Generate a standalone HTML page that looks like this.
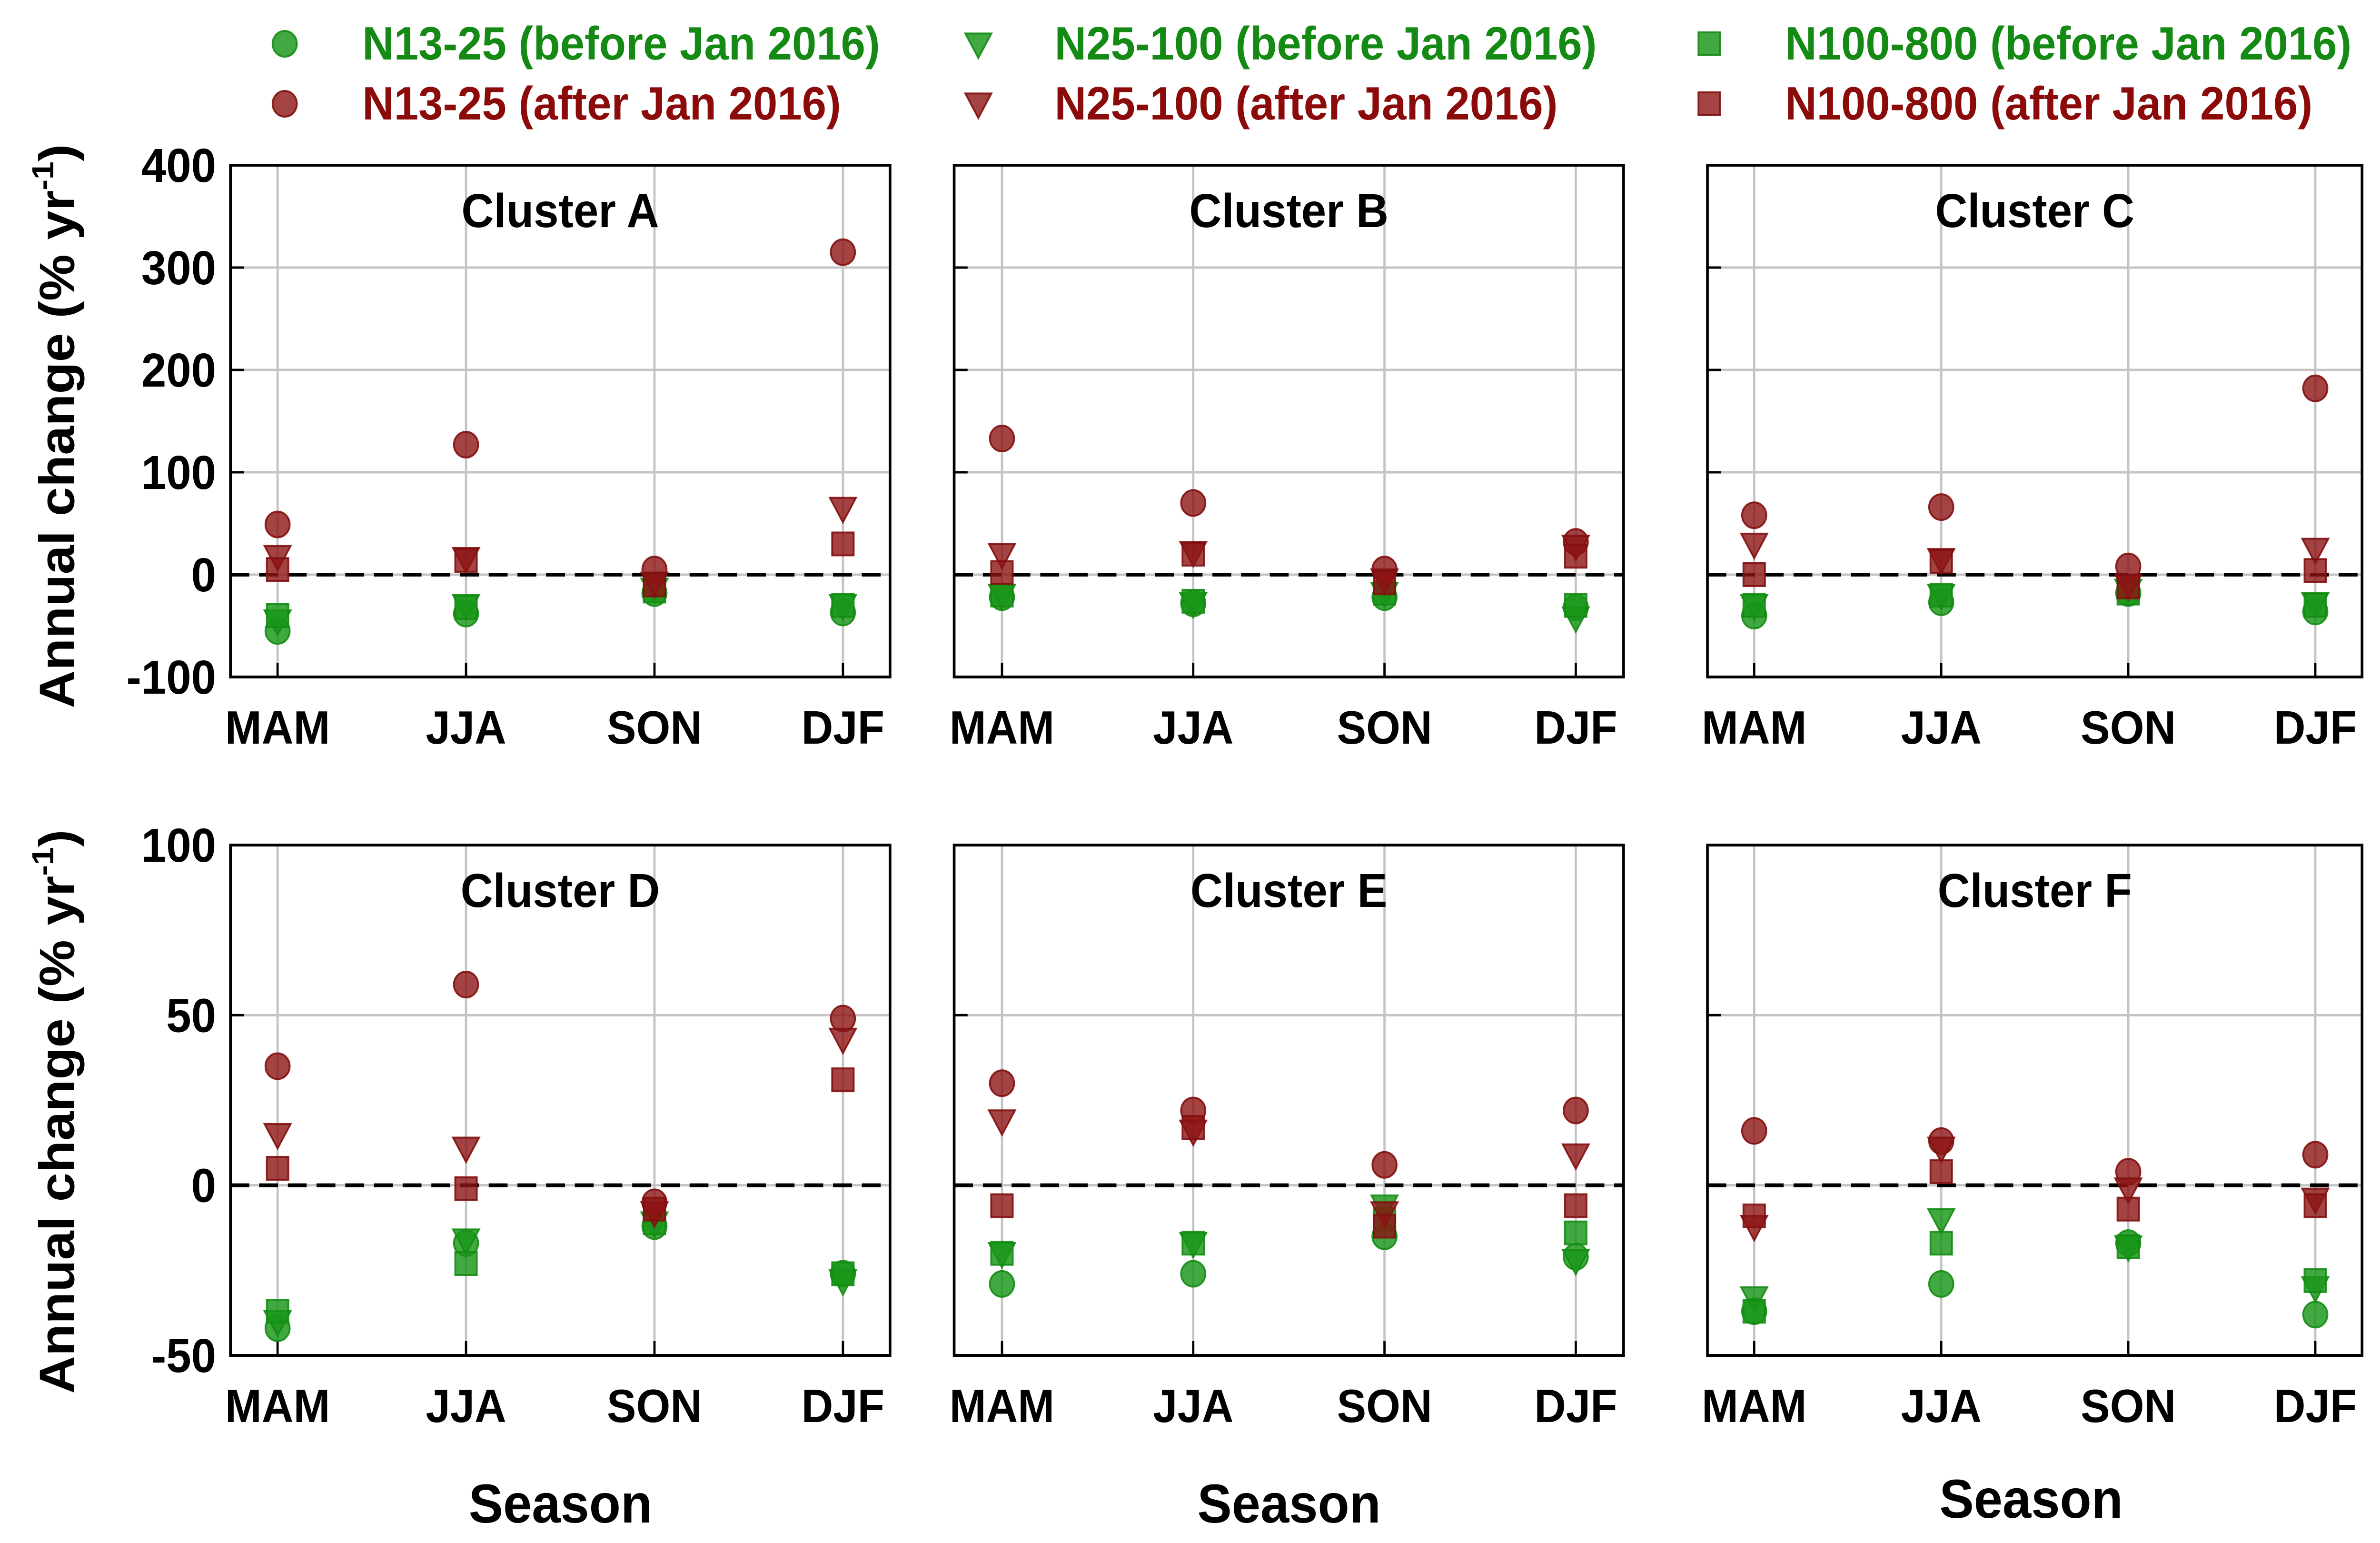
<!DOCTYPE html>
<html><head><meta charset="utf-8"><style>
html,body{margin:0;padding:0;background:#fff;overflow:hidden;}
svg{display:block;width:100vw;height:100vh;font-family:"Liberation Sans",Arial,sans-serif;font-weight:bold;}
</style></head><body>
<svg id="chart" viewBox="0 0 5308 3241" preserveAspectRatio="none" xmlns="http://www.w3.org/2000/svg"></svg>
<script>
const seasons = ["MAM","JJA","SON","DJF"];
const clusters = ["A","B","C","D","E","F"];
const seriesNames = ["gc","gt","gs","rc","rt","rs"];
const cA_gc=[-55,-38,-18,-37], cA_gt=[-45,-30,-14,-30], cA_gs=[-40,-32,-16,-30], cA_rc=[49,127,5,315], cA_rt=[18,16,-8,65], cA_rs=[5,14,-10,30];
const cB_gc=[-22,-28,-22,-32], cB_gt=[-20,-28,-18,-42], cB_gs=[-20,-26,-18,-30], cB_rc=[133,70,5,32], cB_rt=[20,22,-5,28], cB_rs=[2,20,-8,18];
const cC_gc=[-40,-27,-18,-36], cC_gt=[-30,-20,-15,-28], cC_gs=[-30,-20,-18,-30], cC_rc=[58,66,8,182], cC_rt=[30,15,-10,25], cC_rs=[0,13,-12,4];
const cD_gc=[-42,-17,-12,-26], cD_gt=[-40,-16,-11,-28], cD_gs=[-37,-23,-11,-26], cD_rc=[35,59,-5,49], cD_rt=[15,11,-8,43], cD_rs=[5,-1,-7,31];
const cE_gc=[-29,-26,-15,-21], cE_gt=[-20,-17,-6,-22], cE_gs=[-20,-17,-10,-14], cE_rc=[30,22,6,22], cE_rt=[19,16,-8,9], cE_rs=[-6,17,-12,-6];
const cF_gc=[-37,-29,-17,-38], cF_gt=[-33,-10,-18,-30], cF_gs=[-37,-17,-18,-28], cF_rc=[16,13,4,9], cF_rt=[-12,11,-1,-4], cF_rs=[-9,4,-7,-6];
const row1Ticks=[-100,0,100,200,300,400];
const row2Ticks=[-50,0,50,100];
const legendLabels=["N13-25 (before Jan 2016)","N13-25 (after Jan 2016)","N25-100 (before Jan 2016)","N25-100 (after Jan 2016)","N100-800 (before Jan 2016)","N100-800 (after Jan 2016)"];

const data={A:[cA_gc,cA_gt,cA_gs,cA_rc,cA_rt,cA_rs],B:[cB_gc,cB_gt,cB_gs,cB_rc,cB_rt,cB_rs],C:[cC_gc,cC_gt,cC_gs,cC_rc,cC_rt,cC_rs],
D:[cD_gc,cD_gt,cD_gs,cD_rc,cD_rt,cD_rs],E:[cE_gc,cE_gt,cE_gs,cE_rc,cE_rt,cE_rs],F:[cF_gc,cF_gt,cF_gs,cF_rc,cF_rt,cF_rs]};

const NS="http://www.w3.org/2000/svg";
const svg=document.getElementById('chart');
function mk(tag,attrs,parent){const e=document.createElementNS(NS,tag);for(const k in attrs)e.setAttribute(k,attrs[k]);(parent||svg).appendChild(e);return e;}
const GFILL="rgba(25,150,25,0.82)", RFILL="rgba(140,20,20,0.8)";

function marker(shape,x,y,fill,stroke,parent){
  let e;
  if(shape==="c"){e=mk('circle',{cx:x,cy:y,r:27,fill:fill,stroke:stroke,'stroke-width':4},parent);}
  else if(shape==="t"){const h=48,w=29;e=mk('polygon',{points:`${x-w},${y-h*0.45} ${x+w},${y-h*0.45} ${x},${y+h*0.62}`,fill:fill,stroke:stroke,'stroke-width':4},parent);}
  else {e=mk('rect',{x:x-24,y:y-24,width:48,height:48,fill:fill,stroke:stroke,'stroke-width':4},parent);}
  return e;
}

const cols=[[514,1985],[2128,3621],[3808,5268]];
const rows=[{top:347,bot:1422,min:-100,max:400,ticks:row1Ticks},{top:1775,bot:2847,min:-50,max:100,ticks:row2Ticks}];

clusters.forEach((cl,ci)=>{
  const col=cols[ci%3], row=rows[Math.floor(ci/3)];
  const L=col[0],R=col[1],T=row.top,B=row.bot;
  const g=mk('g',{});
  
  
  const xs=i=>L+(i+0.25)/3.5*(R-L);
  const ys=v=>B-(v-row.min)/(row.max-row.min)*(B-T);
  row.ticks.forEach(t=>{
    const y=ys(t);
    if(t!==row.min&&t!==row.max){const gl=mk('line',{x1:L,x2:R,y1:y,y2:y,stroke:"#c4c4c4",'stroke-width':5},g);}
    mk('line',{x1:L,x2:L+30,y1:y,y2:y,stroke:"#000",'stroke-width':5},g);
    if(ci%3===0){const tl=mk('text',{x:L-32,y:y+35,'text-anchor':'end','font-size':100},g);tl.textContent=t;}
  });
  seasons.forEach((s,i)=>{
    const x=xs(i);
    const gl=mk('line',{x1:x,x2:x,y1:T,y2:B,stroke:"#c4c4c4",'stroke-width':5},g);
    
    mk('line',{x1:x,x2:x,y1:B-30,y2:B,stroke:"#000",'stroke-width':5},g);
    const tl=mk('text',{x:x,y:B+140,'text-anchor':'middle','font-size':98},g);
    tl.textContent=s;
  });
  const z=mk('line',{x1:L,x2:R,y1:ys(0),y2:ys(0),stroke:"#000",'stroke-width':8,'stroke-dasharray':'42,22'},g);
  
  const shapes=["c","t","s","c","t","s"];
  data[cl].forEach((arr,si)=>{
    const isG=si<3;
    arr.forEach((v,i)=>{
      const m=marker(shapes[si],xs(i),ys(v),isG?GFILL:RFILL,isG?"rgba(20,140,20,0.9)":"rgba(130,15,15,0.9)",g);
      
      
    });
  });
  const f=mk('rect',{x:L,y:T,width:R-L,height:B-T,fill:"none",stroke:"#000",'stroke-width':6},g);
  
  const ttl=mk('text',{x:(L+R)/2,y:T+130,'text-anchor':'middle','font-size':100},g);
  ttl.textContent='Cluster '+cl;
});

[895,2335].forEach((cy)=>{
  const t=mk('text',{x:0,y:0,'text-anchor':'middle','font-size':110,transform:`translate(165,${cy}) rotate(-90)`});
  
  t.appendChild(document.createTextNode('Annual change (% yr'));
  const sp=mk('tspan',{'font-size':68,dy:-46},t);sp.textContent='-1';
  const cp=mk('tspan',{dy:46},t);cp.textContent=')';
});
[[1250,3198],[2875,3198],[4530,3188]].forEach(p=>{
  const t=mk('text',{x:p[0],y:p[1],'text-anchor':'middle','font-size':115});
  t.textContent='Season';
});
const legX=[[635,808],[2182,2352],[3812,3981]];
const legShapes=["c","c","t","t","s","s"];
legendLabels.forEach((lab,i)=>{
  const c=Math.floor(i/2), r=i%2;
  const y=r===0?92:218;
  const isG=r===0;
  const g=mk('g',{});
  
  marker(legShapes[i],legX[c][0],y,isG?GFILL:RFILL,isG?"rgba(20,140,20,0.9)":"rgba(130,15,15,0.9)",g);
  const t=mk('text',{x:legX[c][1],y:y+33,'font-size':98,fill:isG?"#148a14":"#8b0a0a"},g);
  t.textContent=lab;
});
</script>
</body></html>
